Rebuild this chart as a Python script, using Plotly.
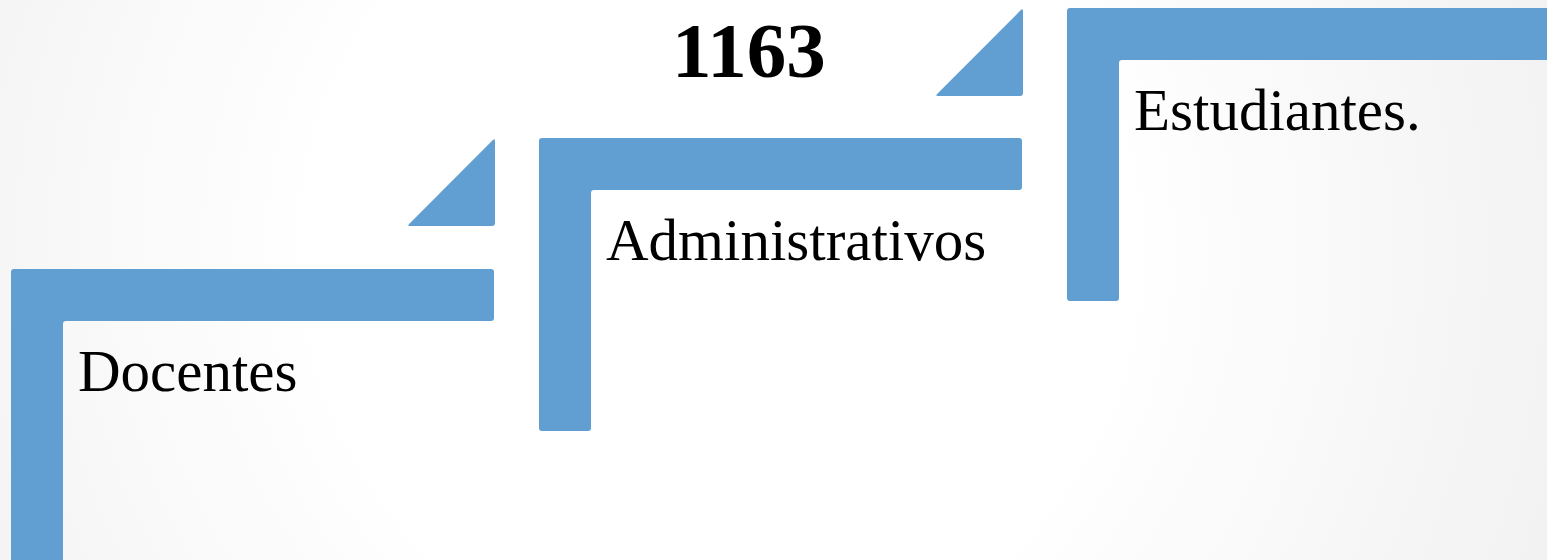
import base64
import plotly.graph_objects as go

# Data
categories = ["Docentes", "Administrativos", "Estudiantes."]
total_label = "1163"
step_left = [11, 539, 1067]        # left edge of each step (x units)
step_top = [291, 422, 552]         # top of each step (y units, upward)
step_bottom = [-10, 129, 259]      # bottom of vertical bar
step_right = [494, 1022, 1560]     # right end of horizontal bar

W, H = 1547, 560
bar = 52
color = "#619ed2"

fig = go.Figure()
fig.add_trace(go.Scatter(x=[0, W], y=[0, H], mode="markers", marker=dict(opacity=0), hoverinfo="skip", showlegend=False))

# background soft radial gradient (SVG image)
svg = (f'<svg xmlns="http://www.w3.org/2000/svg" width="{W}" height="{H}" viewBox="0 0 {W} {H}">'
       '<defs><radialGradient id="g" gradientUnits="userSpaceOnUse" cx="720" cy="250" r="900">'
       '<stop offset="0" stop-color="#ffffff"/><stop offset="0.45" stop-color="#ffffff"/>'
       '<stop offset="1" stop-color="#f1f1f1"/></radialGradient></defs>'
       f'<rect width="{W}" height="{H}" fill="url(#g)"/></svg>')
bg_src = "data:image/svg+xml;base64," + base64.b64encode(svg.encode()).decode()

shapes = []

def rpath(pts, r=3):
    n = len(pts)
    d = ""
    for i in range(n):
        p0 = pts[i - 1]; p1 = pts[i]; p2 = pts[(i + 1) % n]
        def toward(a, b, dist):
            dx, dy = b[0] - a[0], b[1] - a[1]
            L = (dx * dx + dy * dy) ** 0.5
            return (a[0] + dx / L * dist, a[1] + dy / L * dist)
        s = toward(p1, p0, r); e = toward(p1, p2, r)
        d += ("M" if i == 0 else "L") + f"{s[0]:.2f},{s[1]:.2f} Q{p1[0]},{p1[1]} {e[0]:.2f},{e[1]:.2f} "
    return d + "Z"

tri_size = 88
for i, cat in enumerate(categories):
    L, T, B, R = step_left[i], step_top[i], step_bottom[i], step_right[i]
    pts = [(L, T), (R, T), (R, T - bar), (L + bar, T - bar), (L + bar, B), (L, B)]
    shapes.append(dict(type="path", xref="x", yref="y", path=rpath(pts), fillcolor=color, line=dict(width=0)))
    if i < len(categories) - 1:
        tr = step_left[i + 1] - 44
        tt = step_top[i + 1]
        tri = [(tr - tri_size, tt - tri_size), (tr, tt), (tr, tt - tri_size)]
        shapes.append(dict(type="path", xref="x", yref="y", path=rpath(tri, 3), fillcolor=color, line=dict(width=0)))

annotations = []
for i, cat in enumerate(categories):
    annotations.append(dict(x=step_left[i] + 65, y=step_top[i] - 67, xref="x", yref="y", text=cat,
                            showarrow=False, xanchor="left", yanchor="top",
                            font=dict(family="Liberation Serif, serif", size=59, color="black")))
annotations.append(dict(x=749, y=H - 50, xref="x", yref="y", text=f"<b>{total_label}</b>", showarrow=False,
                        xanchor="center", yanchor="middle",
                        font=dict(family="Liberation Serif, serif", size=79, color="black")))

fig.update_layout(
    width=W, height=H, margin=dict(l=0, r=0, t=0, b=0),
    paper_bgcolor="#f6f6f6", plot_bgcolor="rgba(0,0,0,0)",
    xaxis=dict(range=[0, W], visible=False, fixedrange=True),
    yaxis=dict(range=[0, H], visible=False, fixedrange=True),
    images=[dict(source=bg_src, xref="paper", yref="paper", x=0, y=1, sizex=1, sizey=1,
                 sizing="stretch", layer="below", xanchor="left", yanchor="top")],
    shapes=shapes, annotations=annotations, showlegend=False,
)
fig.write_html("out.html", config={"displayModeBar": False},
               post_script="document.body.style.margin='0';document.body.style.overflow='hidden';")
